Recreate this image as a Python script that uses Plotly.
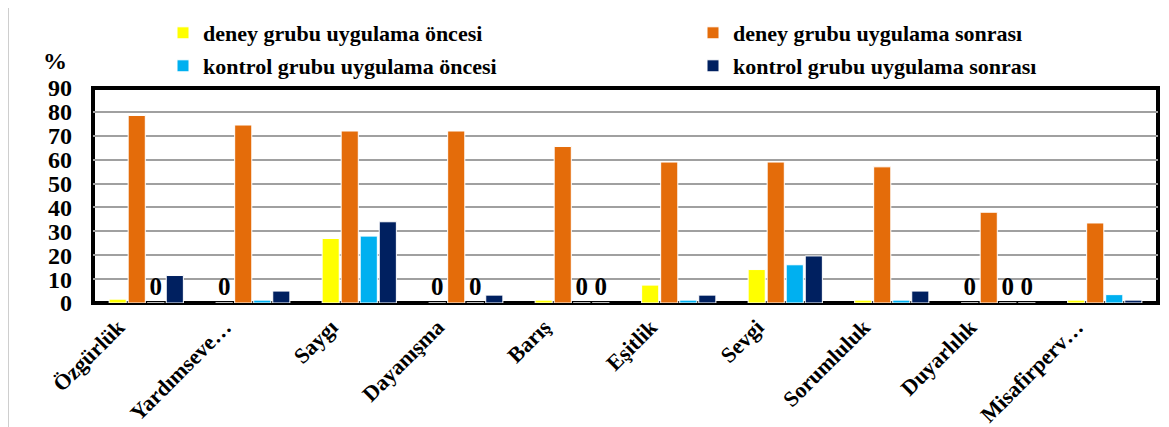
import plotly.graph_objects as go

categories = ["Özgürlük", "Yardımseve…", "Saygı", "Dayanışma", "Barış",
              "Eşitlik", "Sevgi", "Sorumluluk", "Duyarlılık", "Misafirperv…"]
deney_once = [1.6, 0, 27.0, 0, 1.2, 7.5, 14.0, 1.2, 0, 1.2]
deney_sonra = [78.5, 74.5, 72.0, 72.0, 65.5, 59.0, 59.0, 57.0, 38.0, 33.5]
kontrol_once = [0, 1.2, 28.0, 0, 0, 1.2, 16.0, 1.2, 0, 3.5]
kontrol_sonra = [11.5, 5.0, 34.0, 3.3, 0, 3.3, 19.7, 5.0, 0, 1.2]

series = [
    ("deney grubu uygulama öncesi", deney_once, "#FFFF00", "legend"),
    ("deney grubu uygulama sonrası", deney_sonra, "#E46C0A", "legend"),
    ("kontrol grubu uygulama öncesi", kontrol_once, "#00B0F0", "legend2"),
    ("kontrol grubu uygulama sonrası", kontrol_sonra, "#002060", "legend2"),
]

SERIF = "Liberation Serif, Times New Roman, serif"
# the page body adds an 8px margin, so the figure is drawn 8px smaller
W, H = 1161, 419

fig = go.Figure()
for name, vals, color, leg in series:
    fig.add_trace(go.Bar(
        x=categories, y=vals, name=name, legend=leg,
        marker=dict(color=color, line=dict(color="white", width=1)),
        text=["0" if v == 0 else "" for v in vals],
        textposition="outside", cliponaxis=False, constraintext="none",
        textfont=dict(family=SERIF, size=25, color="black", weight="bold"),
    ))

# legends are placed in figure (container) coordinates so they don't push margins
legend_style = dict(
    orientation="h", xref="container", yref="container",
    xanchor="left", yanchor="middle", x=155 / W,
    entrywidth=485, entrywidthmode="pixels", traceorder="normal",
    font=dict(family=SERIF, size=22, color="black", weight="bold"),
    bgcolor="rgba(0,0,0,0)",
)

fig.update_layout(
    width=W, height=H,
    margin=dict(l=85, r=11, t=80, b=124, autoexpand=False),
    paper_bgcolor="white", plot_bgcolor="white",
    barmode="group", bargap=0.285, bargroupgap=0.1,
    showlegend=True,
    legend=dict(legend_style, y=1 - 25 / H),
    legend2=dict(legend_style, y=1 - 58 / H),
    xaxis=dict(
        tickangle=-45, showgrid=False, showline=False, ticks="",
        ticklabelshift=-28, ticklabelstandoff=6,
        tickfont=dict(family=SERIF, size=22, color="black", weight="bold"),
    ),
    yaxis=dict(
        range=[0, 90], dtick=10, showline=False, zeroline=False,
        gridcolor="#A0A0A0", gridwidth=1.5, ticklabelstandoff=20,
        tickfont=dict(family=SERIF, size=24, color="black", weight="bold"),
    ),
    shapes=[
        dict(type="rect", xref="paper", yref="paper", x0=0, x1=1, y0=0, y1=1,
             line=dict(color="black", width=4), layer="below"),
        dict(type="rect", xref="paper", yref="paper", x0=-0.08, x1=1.02,
             y0=-0.62, y1=1.385, line=dict(color="#A6A6A6", width=1.5)),
    ],
    annotations=[
        dict(text="%", xref="paper", yref="paper", x=-0.0357, y=1.126,
             showarrow=False, xanchor="center", yanchor="middle",
             font=dict(family=SERIF, size=24, color="black", weight="bold")),
    ],
)

fig.write_html("out.html")
